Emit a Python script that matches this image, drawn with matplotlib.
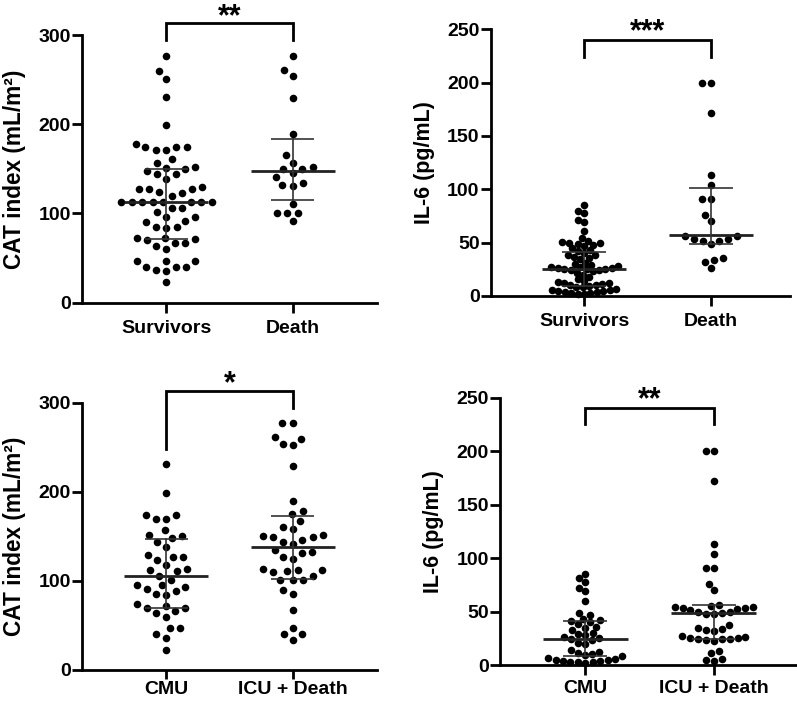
import numpy as np
import matplotlib
matplotlib.use("Agg")
import matplotlib.pyplot as plt

plt.rcParams['font.family'] = ['Liberation Sans', 'DejaVu Sans']
plt.rcParams['font.weight'] = 'bold'

# ---------------- data ----------------
cat_survivors = [277, 260, 251, 231, 199, 178, 174, 174, 174, 171, 171, 161, 157, 152, 151,
                 150, 148, 144, 144, 139, 130, 127, 127, 127, 124, 123, 120,
                 113, 113, 113, 113, 113, 113, 113, 113, 106, 106, 102, 96, 96, 92, 90,
                 85, 85, 84, 73, 72, 71, 70, 67, 67, 63, 60, 47, 47, 47, 40, 40, 40, 37, 35, 23]
cat_death = [277, 261, 254, 229, 189, 166, 157, 152, 150, 150, 145, 141, 134, 132, 131,
             111, 101, 101, 101, 91]
cat_cmu = [231, 199, 174, 174, 170, 170, 157, 151, 150, 148, 144, 138, 129, 127, 127, 124,
           118, 113, 112, 111, 106, 101, 95, 95, 93, 91, 89, 85, 84, 74, 72, 70, 70, 66,
           64, 60, 47, 47, 40, 36, 23]
cat_icu_death = [277, 277, 262, 259, 254, 252, 229, 190, 178, 175, 167, 161, 158,
                 152, 150, 149, 149, 146, 144, 141, 135, 132, 131, 127, 125,
                 113, 112, 112, 111, 110, 106, 101, 101, 101, 90, 85, 67, 47, 40, 40, 34]

il6_survivors = [85, 80, 78, 71, 69, 61, 54, 52, 51, 50, 50, 49, 48, 47, 45, 43, 42, 40,
                 38, 38, 37, 36, 35, 31, 30, 29, 28, 27, 27, 26, 26, 25, 25, 25, 24, 24,
                 23, 22, 20, 18, 16, 14, 13, 12, 12, 11, 10, 10, 9, 8, 8, 7, 6, 6, 5, 5,
                 4, 4, 3, 3, 2, 2]
il6_death = [200, 200, 172, 113, 104, 91, 91, 76, 70, 56, 56, 53, 53, 52, 52, 49,
             36, 34, 32, 26]
il6_cmu = [85, 81, 78, 72, 69, 60, 49, 47, 43, 42, 41, 40, 38, 36, 35, 33, 30, 29, 28,
           26, 25, 24, 23, 21, 20, 14, 12, 11, 10, 9, 8, 7, 6, 5, 5, 4, 4, 3, 3, 3, 2]
il6_icu_death = [200, 200, 172, 113, 104, 91, 91, 76, 70, 56, 55, 54, 54, 53, 53, 52,
                 51, 50, 50, 49, 48, 48, 37, 35, 34, 33, 32, 27, 26, 25, 25, 24, 24, 24,
                 23, 22, 13, 11, 6, 5, 4]

# median and interquartile range (low, median, high)
summ_cat_surv = (71, 113, 150)
summ_cat_death = (115, 148, 184)
summ_cat_cmu = (70, 106, 147)
summ_cat_icu = (102, 138, 173)
summ_il6_surv = (9, 25, 41)
summ_il6_death = (49, 57, 101)
summ_il6_cmu = (8, 24, 41)
summ_il6_icu = (24, 49, 56)

labels_top = ['Survivors', 'Death']
labels_bottom = ['CMU', 'ICU + Death']
ylabel_cat = 'CAT index (mL/m²)'
ylabel_il6 = 'IL-6 (pg/mL)'
stars = ['**', '***', '*', '**']

# ---------------- figure ----------------
W, H = 797, 702
fig = plt.figure(figsize=(W / 100, H / 100), dpi=100)


def px_axes(l, r, t, b):
    return fig.add_axes([l / W, (H - b) / H, (r - l) / W, (b - t) / H])


def swarm(values, D, xppu, yppu):
    vals = np.asarray(values, float)
    order = np.argsort(vals)
    placed = []
    xs = np.zeros(len(vals))
    for i in order:
        y = vals[i] * yppu
        cands = [0.0]
        for (px, py) in placed:
            dy = y - py
            if abs(dy) < D:
                w = np.sqrt(D * D - dy * dy)
                cands += [px - w, px + w]
        cands = sorted(cands, key=lambda c: (abs(c), c))
        for c in cands:
            ok = True
            for (px, py) in placed:
                if (c - px) ** 2 + (y - py) ** 2 < D * D - 1e-6:
                    ok = False
                    break
            if ok:
                break
        placed.append((c, y))
        xs[i] = c / xppu
    return xs


def panel(box, xlim, ymax, ystep, groups, summs, xlabels, ylabel, ylab_size, D,
          bracket, star, xpad=5, xtick_len=7.5):
    l, r, t, b = box
    ax = px_axes(l, r, t, b)
    ax.set_xlim(*xlim)
    ax.set_ylim(0, ymax)
    xppu = (r - l) / (xlim[1] - xlim[0])
    yppu = (b - t) / ymax
    for k, (vals, d) in enumerate(zip(groups, D)):
        xs = swarm(vals, d, xppu, yppu) + k
        ax.scatter(xs, vals, s=30, color='black', linewidths=0, zorder=3, clip_on=False)
    for k, (lo, med, hi) in enumerate(summs):
        ax.plot([k - 0.33, k + 0.33], [med, med], color='#222222', lw=2.0, zorder=4,
                solid_capstyle='butt')
        ax.plot([k, k], [lo, hi], color='#333333', lw=1.2, zorder=4)
        for v in (lo, hi):
            ax.plot([k - 0.17, k + 0.17], [v, v], color='#333333', lw=1.2, zorder=4,
                    solid_capstyle='butt')
    yb, yl, yr, ys = bracket
    ax.plot([0, 0, 1, 1], [yl, yb, yb, yr], color='black', lw=2.0, clip_on=False,
            solid_joinstyle='miter')
    ax.text(0.5, ys, star, ha='center', va='top', fontsize=22, fontweight='bold',
            clip_on=False)
    ax.spines['top'].set_visible(False)
    ax.spines['right'].set_visible(False)
    for s in ('left', 'bottom'):
        ax.spines[s].set_linewidth(2.0)
    ax.set_yticks(np.arange(0, ymax + 1, ystep))
    ax.set_xticks([0, 1])
    ax.set_xticklabels(xlabels)
    ax.tick_params(axis='y', length=7, width=2.0, labelsize=14, pad=1)
    ax.tick_params(axis='x', length=xtick_len, width=2.0, labelsize=14, pad=xpad)
    for lab in ax.get_xticklabels() + ax.get_yticklabels():
        lab.set_fontweight('bold')
    ax.set_ylabel(ylabel, fontsize=ylab_size, fontweight='bold', labelpad=9)
    return ax


panel((82, 377, 35, 302.7), (-0.663, 1.663), 300, 100,
      [cat_survivors, cat_death], [summ_cat_surv, summ_cat_death],
      labels_top, ylabel_cat, 16.3, [10.5, 10.5], (313, 294, 294, 337), stars[0])
panel((490.7, 790, 29.3, 296), (-0.735, 1.622), 250, 50,
      [il6_survivors, il6_death], [summ_il6_surv, summ_il6_death],
      labels_top, ylabel_il6, 15.5, [6.5, 9], (240, 224, 224, 261), stars[1])
panel((82, 377, 402.7, 670), (-0.663, 1.663), 300, 100,
      [cat_cmu, cat_icu_death], [summ_cat_cmu, summ_cat_icu],
      labels_bottom, ylabel_cat, 16.3, [10.5, 10.5], (313, 248, 294, 338), stars[2],
      xpad=1.5, xtick_len=6.5)
panel((500, 800, 397.7, 665), (-0.664, 1.67), 250, 50,
      [il6_cmu, il6_icu_death], [summ_il6_cmu, summ_il6_icu],
      labels_bottom, ylabel_il6, 15.5, [7.5, 8], (240.4, 225.4, 225.4, 262), stars[3],
      xpad=3)

fig.savefig('out.png', dpi=100)
